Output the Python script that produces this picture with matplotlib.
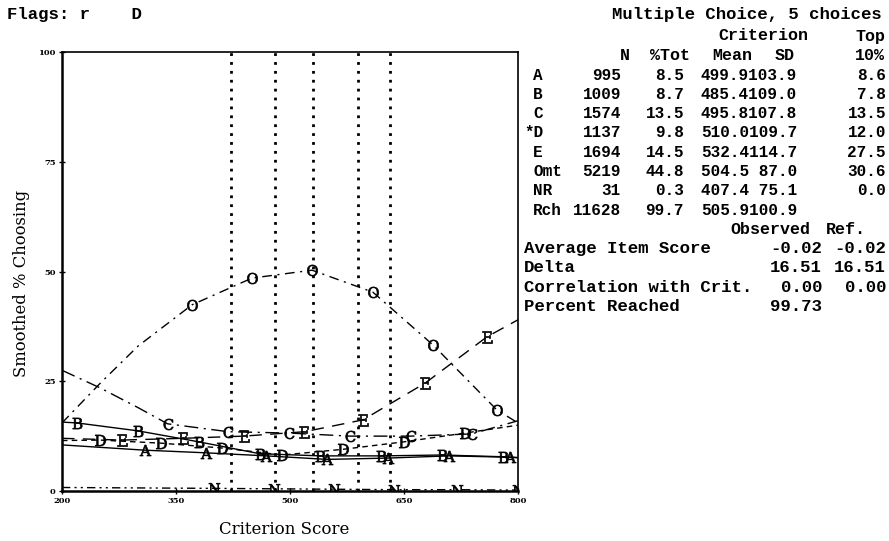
import matplotlib
matplotlib.use('Agg')
import matplotlib.pyplot as plt

# Item analysis plot: smoothed % choosing each option vs criterion score

# option curves (criterion score, smoothed % choosing)
omit_x = [200, 250, 300, 371, 450, 529, 609, 688, 772, 800]
omit_y = [15.5, 24.5, 33.0, 42.4, 48.5, 50.3, 45.3, 33.3, 18.5, 15.5]
e_x = [200, 279, 359, 439, 519, 596, 678, 759, 800]
e_y = [12.0, 11.6, 12.0, 12.5, 13.5, 16.2, 24.6, 35.1, 39.0]
c_x = [200, 250, 300, 339, 419, 499, 579, 659, 739, 800]
c_y = [27.5, 23.5, 19.0, 15.3, 13.5, 13.2, 12.5, 12.5, 13.0, 16.0]
d_x = [200, 250, 330, 410, 490, 570, 650, 730, 800]
d_y = [11.5, 11.6, 10.9, 9.8, 8.2, 9.5, 11.2, 13.2, 15.0]
a_x = [200, 309, 389, 469, 549, 629, 709, 789, 800]
a_y = [10.5, 9.3, 8.7, 8.0, 7.2, 7.5, 8.0, 7.7, 7.6]
b_x = [200, 220, 300, 380, 460, 540, 620, 700, 780, 800]
b_y = [15.7, 15.5, 13.7, 11.2, 8.5, 8.0, 8.0, 8.2, 7.8, 7.6]
n_x = [200, 400, 479, 558, 637, 720, 800]
n_y = [0.8, 0.6, 0.5, 0.4, 0.3, 0.3, 0.2]

# vertical dotted lines (criterion quantiles)
quantiles = [422, 480, 530, 590, 632]

xticks = [200, 350, 500, 650, 800]
yticks = [0, 25, 50, 75, 100]

# statistics table
opt_labels = ['A', 'B', 'C', '*D', 'E', 'Omt', 'NR', 'Rch']
opt_n = [995, 1009, 1574, 1137, 1694, 5219, 31, 11628]
opt_pct = [8.5, 8.7, 13.5, 9.8, 14.5, 44.8, 0.3, 99.7]
opt_mean = [499.9, 485.4, 495.8, 510.0, 532.4, 504.5, 407.4, 505.9]
opt_sd = [103.9, 109.0, 107.8, 109.7, 114.7, 87.0, 75.1, 100.9]
opt_top = [8.6, 7.8, 13.5, 12.0, 27.5, 30.6, 0.0, None]

stat_labels = ['Average Item Score', 'Delta', 'Correlation with Crit.', 'Percent Reached']
stat_obs = [-0.02, 16.51, 0.00, 99.73]
stat_ref = [-0.02, 16.51, 0.00, None]

W, H = 889, 541
fig = plt.figure(figsize=(W / 100, H / 100), dpi=100)
ax = fig.add_axes([62 / W, 1 - 491 / H, 456 / W, 439 / H])
plt.rcParams['mathtext.fontset'] = 'dejavuserif'

k = dict(color='black', lw=1.0, markersize=8, markeredgewidth=0.5)
ax.plot(omit_x, omit_y, ls=(0, (7, 4, 1.5, 4)), marker=r'$\mathrm{O}$', markevery=list(range(3, 9)), **k)
ax.plot(e_x, e_y, ls=(0, (9, 6)), marker=r'$\mathrm{E}$', markevery=list(range(1, 8)), **k)
ax.plot(c_x, c_y, ls=(0, (10, 4, 1.5, 4)), marker=r'$\mathrm{C}$', markevery=list(range(3, 9)), **k)
ax.plot(d_x, d_y, ls=(0, (4, 3)), marker=r'$\mathrm{D}$', markevery=list(range(1, 8)), **k)
ax.plot(a_x, a_y, ls='-', marker=r'$\mathrm{A}$', markevery=list(range(1, 8)), **k)
ax.plot(b_x, b_y, ls='-', marker=r'$\mathrm{B}$', markevery=list(range(1, 9)), **k)
ax.plot(n_x, n_y, ls=(0, (6, 3, 1.5, 3, 1.5, 3)), marker=r'$\mathrm{N}$', markevery=list(range(1, 7)), **k)

for q in quantiles:
    ax.plot([q, q], [0, 100], color='black', lw=2.0, ls=(0, (1, 2.2)))

ax.set_xlim(200, 800)
ax.set_ylim(0, 100)
ax.set_xticks(xticks)
ax.set_yticks(yticks)
ax.set_xticklabels([str(t) for t in xticks], fontsize=6, family='DejaVu Serif', weight='bold')
ax.set_yticklabels([str(t) for t in yticks], fontsize=6, family='DejaVu Serif', weight='bold')
ax.tick_params(direction='inout', length=5, width=1.0, pad=2)
for s in ax.spines.values():
    s.set_linewidth(1.2)
ax.spines['left'].set_linewidth(1.8)
ax.spines['bottom'].set_linewidth(1.8)

fig.text(22 / W, 1 - 283 / H, 'Smoothed % Choosing', rotation=90, ha='center', va='center',
         fontsize=11.8, family='DejaVu Serif')
fig.text(284 / W, 1 - 530 / H, 'Criterion Score', ha='center', va='center',
         fontsize=12, family='DejaVu Serif')

def put(x, y, s, size=12.5, ha='left'):
    fig.text(x / W, 1 - y / H, s, family='Liberation Mono', weight='bold',
             fontsize=size, va='center', ha=ha)

put(7, 15, 'Flags: r    D')
put(612, 14, 'Multiple Choice, 5 choices', size=12.4)

# header of the option table
put(718, 36, 'Criterion', size=12)
put(885, 36, 'Top', size=12, ha='right')
for lab, xr in [('N', 630), ('%Tot', 690), ('Mean', 752), ('SD', 795), ('10%', 885)]:
    put(xr, 55, lab, size=12, ha='right')

# option rows
row_y = 75
for i in range(len(opt_labels)):
    y = row_y + 19.3 * i
    put(524 if opt_labels[i].startswith('*') else 533, y, opt_labels[i], size=11.5)
    put(621, y, f"{opt_n[i]}", size=11.5, ha='right')
    put(684, y, f"{opt_pct[i]:.1f}", size=11.5, ha='right')
    put(797, y, f"{opt_mean[i]:5.1f}{opt_sd[i]:5.1f}", size=11.5, ha='right')
    if opt_top[i] is not None:
        put(886, y, f"{opt_top[i]:.1f}", size=11.5, ha='right')

# summary statistics
stat_y = row_y + 19.3 * len(opt_labels)
put(810, stat_y, 'Observed', size=12, ha='right')
put(866, stat_y, 'Ref.', size=12, ha='right')
for i in range(len(stat_labels)):
    y = stat_y + 19.3 * (i + 1)
    put(524, y, stat_labels[i])
    put(822, y, f"{stat_obs[i]:.2f}", ha='right')
    if stat_ref[i] is not None:
        put(886, y, f"{stat_ref[i]:.2f}", ha='right')

fig.savefig('out.png', dpi=100)
